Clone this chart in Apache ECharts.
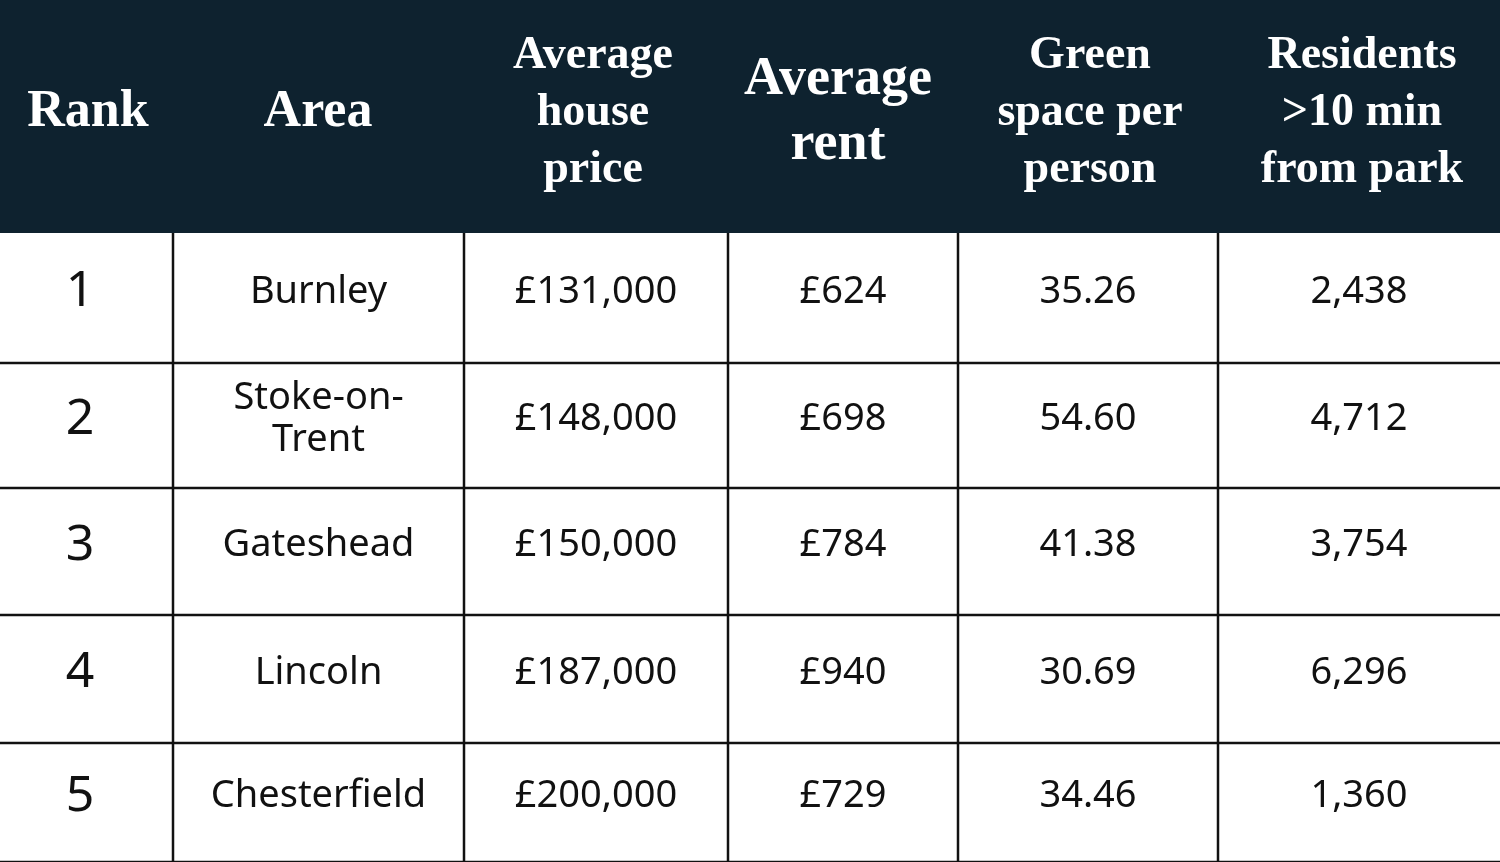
<!DOCTYPE html>
<html><head><meta charset="utf-8">
<script src="https://cdn.jsdelivr.net/npm/echarts@6/dist/echarts.min.js"></script>
<style>html,body{margin:0;padding:0;background:#fff}#c{width:1500px;height:862px}</style>
</head><body><div id="c"></div>
<script>
const headers = ["Rank","Area","Average\nhouse\nprice","Average\nrent","Green\nspace per\nperson","Residents\n>10 min\nfrom park"];
const ranks = ["1","2","3","4","5"];
const areas = ["Burnley","Stoke-on-\nTrent","Gateshead","Lincoln","Chesterfield"];
const housePrices = ["£131,000","£148,000","£150,000","£187,000","£200,000"];
const rents = ["£624","£698","£784","£940","£729"];
const greenSpace = ["35.26","54.60","41.38","30.69","34.46"];
const residents = ["2,438","4,712","3,754","6,296","1,360"];

const colX = [0,173,464,728,958,1218,1500];
const rowY = [0,233,363,488,615,743,862];
const headCenters = [88,318,593,838,1090,1362];
const headSizes = [52,52,46,54,46,46];
const headLH = [60,60,57,65,57,57];
const cols = [ranks, areas, housePrices, rents, greenSpace, residents];

const g = [];
g.push({type:'rect',shape:{x:0,y:0,width:1500,height:rowY[1]},style:{fill:'#0e222f'}});
headers.forEach((h,i)=>{
  g.push({type:'text',x:headCenters[i],y:113,style:{text:h,fill:'#fff',font:'bold '+headSizes[i]+'px "Liberation Serif", serif',align:'center',verticalAlign:'middle',lineHeight:headLH[i]}});
});
for(let r=1;r<rowY.length-1;r++){
  g.push({type:'line',shape:{x1:0,y1:rowY[r+1],x2:1500,y2:rowY[r+1]},style:{stroke:'#111',lineWidth:2.5}});
}
for(let c=1;c<colX.length-1;c++){
  g.push({type:'line',shape:{x1:colX[c],y1:rowY[1],x2:colX[c],y2:862},style:{stroke:'#111',lineWidth:2.5}});
}
cols.forEach((arr,c)=>{
  arr.forEach((v,r)=>{
    const cx = c===0 ? 80 : (colX[c]+colX[c+1])/2;
    const cy = (rowY[r+1]+rowY[r+2])/2 - 6;
    g.push({type:'text',x:cx,y:cy,style:{text:v,fill:'#111',font:(c===0?'50px':'38px')+' "Noto Sans", sans-serif',align:'center',verticalAlign:'middle',lineHeight:42}});
  });
});
const chart = echarts.init(document.getElementById('c'));
chart.setOption({animation:false,graphic:g});
</script></body></html>
